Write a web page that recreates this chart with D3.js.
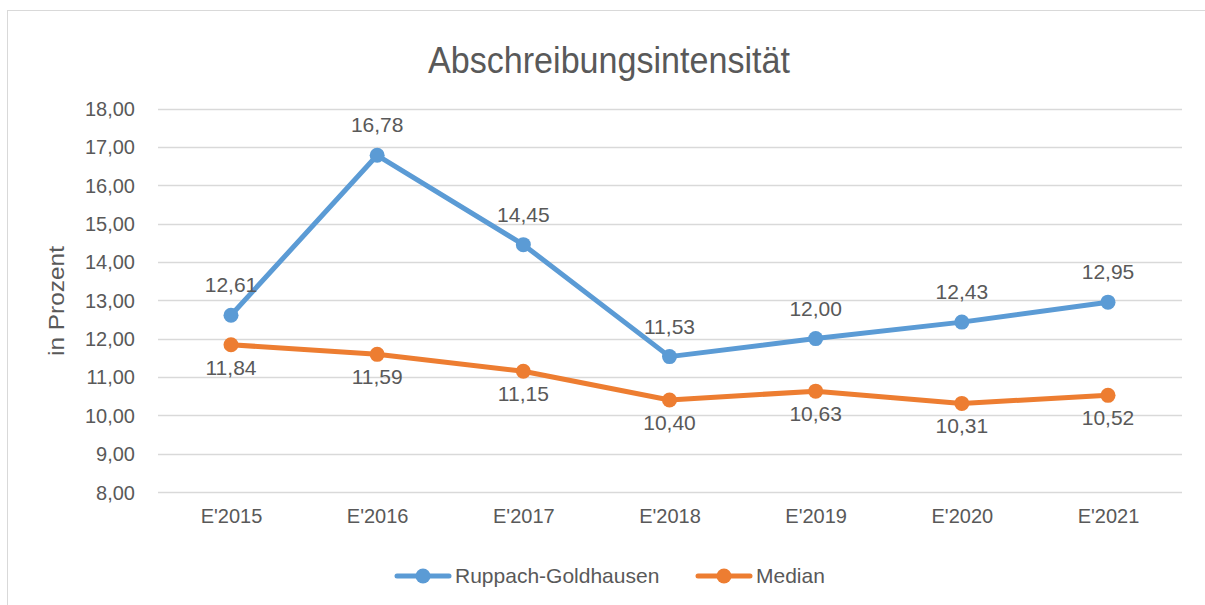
<!DOCTYPE html>
<html><head><meta charset="utf-8">
<script src="https://cdn.jsdelivr.net/npm/d3@7"></script>
<style>body{margin:0;background:#fff}svg{display:block}text{font-family:"Liberation Sans","Open Sans",sans-serif;fill:#595959}</style>
</head><body><svg id="c" width="1205" height="605"></svg>
<script>
const categories = ["E'2015","E'2016","E'2017","E'2018","E'2019","E'2020","E'2021"];
const ruppach = [12.61,16.78,14.45,11.53,12.00,12.43,12.95];
const median = [11.84,11.59,11.15,10.40,10.63,10.31,10.52];
const yTicks = [8,9,10,11,12,13,14,15,16,17,18];
const seriesNames = ["Ruppach-Goldhausen","Median"];
const colors = ["#5B9BD5","#ED7D31"];

const svg = d3.select("#c");
const fmt = v => v.toFixed(2).replace(".", ",");
// chart border
svg.append("rect").attr("x",7.5).attr("y",10.5).attr("width",1300).attr("height",700)
  .attr("fill","none").attr("stroke","#d9d9d9").attr("stroke-width",1);

const x = d3.scalePoint().domain(categories).range([231,1108]);
const y = d3.scaleLinear().domain([8,18]).range([492,108.5]);

// grid
svg.append("g").selectAll("line").data(yTicks).join("line")
  .attr("x1",158).attr("x2",1182).attr("y1",d=>Math.round(y(d))+0.5).attr("y2",d=>Math.round(y(d))+0.5)
  .attr("stroke","#d9d9d9").attr("stroke-width",1.3);

// y axis labels
const ya = svg.append("g").attr("transform","translate(135,0)")
  .call(d3.axisLeft(y).tickValues(yTicks).tickFormat(fmt).tickSize(0).tickPadding(0));
ya.select(".domain").remove();
ya.selectAll("text").attr("font-size",20).attr("fill","#595959").attr("dy","0.35em");

// x axis labels
const xa = svg.append("g").attr("transform","translate(0,508)")
  .call(d3.axisBottom(x).tickSize(0).tickPadding(0));
xa.select(".domain").remove();
xa.selectAll("text").attr("font-size",20).attr("fill","#595959").attr("dy","0.75em");

// title
svg.append("text").attr("x",609).attr("y",73).attr("text-anchor","middle")
  .attr("font-size",36).attr("textLength",362).attr("lengthAdjust","spacingAndGlyphs")
  .text("Abschreibungsintensität");
// axis title
svg.append("text").attr("transform","translate(64,301) rotate(-90)").attr("text-anchor","middle")
  .attr("font-size",22).attr("textLength",110).attr("lengthAdjust","spacingAndGlyphs").text("in Prozent");

const data = [ruppach, median];
const line = d3.line().x((d,i)=>x(categories[i])).y(d=>y(d));
data.forEach((s,k)=>{
  const g = svg.append("g");
  g.append("path").datum(s).attr("d",line).attr("fill","none").attr("stroke",colors[k])
    .attr("stroke-width",5).attr("stroke-linejoin","round").attr("stroke-linecap","round");
  g.selectAll("circle").data(s).join("circle").attr("cx",(d,i)=>x(categories[i])).attr("cy",d=>y(d))
    .attr("r",7.5).attr("fill",colors[k]);
  g.selectAll("text").data(s).join("text").attr("x",(d,i)=>x(categories[i]))
    .attr("y",d=>y(d)+(k===0?-23:30)).attr("text-anchor","middle").attr("font-size",21)
    .attr("fill","#404040").text(fmt);
});

// legend
const legX = [395, 696];
seriesNames.forEach((n,k)=>{
  const g = svg.append("g").attr("transform",`translate(${legX[k]},576)`);
  g.append("line").attr("x1",2).attr("x2",54).attr("stroke",colors[k]).attr("stroke-width",5).attr("stroke-linecap","round");
  g.append("circle").attr("cx",28).attr("r",7.5).attr("fill",colors[k]);
  g.append("text").attr("x",60).attr("dy","0.35em").attr("font-size",21).text(n);
});
</script></body></html>
